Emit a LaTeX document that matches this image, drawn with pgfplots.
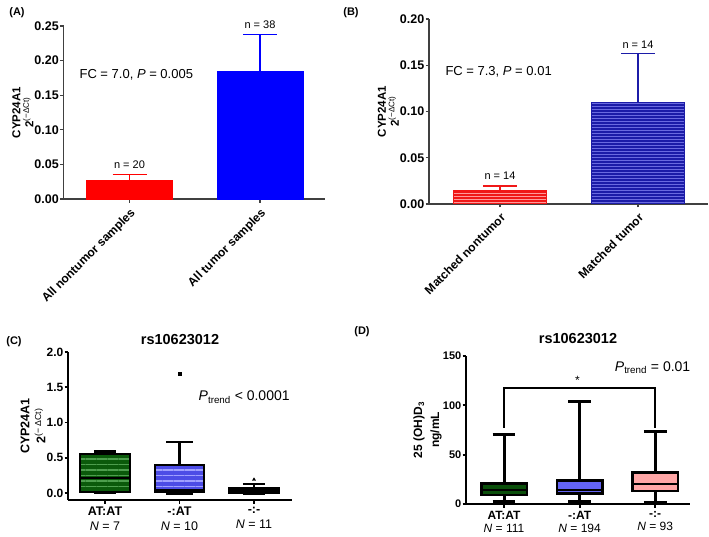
\documentclass[border=0pt]{standalone}
\usepackage{pgfplots}
\pgfplotsset{compat=1.18}
\usepgfplotslibrary{statistics}
\usetikzlibrary{patterns,patterns.meta}
\usepackage{fontspec}
\setmainfont{Liberation Sans}

\definecolor{ared}{HTML}{FF0000}
\definecolor{ablue}{HTML}{0000FF}
\definecolor{bred}{HTML}{F01818}
\definecolor{bredl}{HTML}{FF9A9A}
\definecolor{bblue}{HTML}{1C1CA8}
\definecolor{bbluel}{HTML}{6A6AE0}
\definecolor{cgreen}{HTML}{0B5A0B}
\definecolor{cgreenl}{HTML}{4E9E4E}
\definecolor{cblue}{HTML}{4C4CE6}
\definecolor{cbluel}{HTML}{A0A0FF}
\definecolor{dgreen}{HTML}{0A4F0A}
\definecolor{dblue}{HTML}{6464F5}
\definecolor{dpink}{HTML}{FFA6A6}
\definecolor{axgray}{HTML}{404040}

\pgfplotsset{
  gp/.style={
    scale only axis,
    axis lines=left,
    axis line style={-, line width=1.3pt, axgray},
    tick align=outside,
    major tick length=3.5pt,
    tick style={line width=1.3pt, axgray},
    tick label style={font=\fontsize{12.5}{14}\selectfont\bfseries},
    yticklabel style={inner sep=1pt},
    /pgf/number format/assume math mode=true,
    ylabel style={align=center, font=\fontsize{11.5}{13}\selectfont, inner sep=0pt},
    clip=false,
  },
  gpbox/.style={
    gp,
    boxplot/draw direction=y,
    axis line style={-, line width=1.8pt, black},
    tick style={line width=1.8pt, black},
    xticklabel style={align=center, font=\fontsize{12.5}{15}\selectfont},
  },
}

\begin{document}
\begin{tikzpicture}
\useasboundingbox (0,0) rectangle (709pt,536pt);

% Panel labels
\node[font=\fontsize{11}{12}\selectfont\bfseries] at (17pt,523pt) {(A)};
\node[font=\fontsize{11}{12}\selectfont\bfseries] at (351pt,523pt) {(B)};
\node[font=\fontsize{11}{12}\selectfont\bfseries] at (14pt,194pt) {(C)};
\node[font=\fontsize{11}{12}\selectfont\bfseries] at (362pt,204pt) {(D)};

% ---------------- Panel A
\begin{axis}[gp, at={(63.5pt,337pt)}, anchor=south west,
  width=261.5pt, height=173pt,
  xmin=-0.506, xmax=1.498, ymin=0, ymax=0.25,
  ytick={0,0.05,0.1,0.15,0.2,0.25},
  yticklabel style={/pgf/number format/fixed, /pgf/number format/fixed zerofill, /pgf/number format/precision=2},
  xtick={0,1}, xticklabels={All nontumor samples, All tumor samples},
  xticklabel style={rotate=45, anchor=north east, font=\fontsize{12}{14}\selectfont\bfseries},
  ylabel={\textbf{CYP24A1}\\\textbf{2}\textsuperscript{(−ΔCt)}},
]
\addplot[ybar, bar width=0.66, bar shift=0pt, fill=ared, draw=ared,
  error bars/.cd, y dir=plus, y explicit,
  error bar style={draw=ared, line width=1.3pt},
  error mark options={draw=ared, line width=1.3pt, mark size=17pt, rotate=90}]
  coordinates {(0,0.0265) +- (0,0.0091)};
\addplot[ybar, bar width=0.66, bar shift=0pt, fill=ablue, draw=ablue,
  error bars/.cd, y dir=plus, y explicit,
  error bar style={draw=ablue, line width=1.3pt},
  error mark options={draw=ablue, line width=1.3pt, mark size=17pt, rotate=90}]
  coordinates {(1,0.185) +- (0,0.0525)};
\node[font=\fontsize{13}{15}\selectfont, anchor=west] at (axis cs:-0.41,0.179) {FC = 7.0, \textit{P} = 0.005};
\node[font=\fontsize{11}{12}\selectfont] at (axis cs:0,0.05) {n = 20};
\node[font=\fontsize{11}{12}\selectfont] at (axis cs:1,0.252) {n = 38};
\end{axis}

% ---------------- Panel B
\begin{axis}[gp, at={(429pt,332pt)}, anchor=south west,
  width=279pt, height=185pt,
  xmin=-0.514, xmax=1.507, ymin=0, ymax=0.2,
  ytick={0,0.05,0.1,0.15,0.2},
  yticklabel style={/pgf/number format/fixed, /pgf/number format/fixed zerofill, /pgf/number format/precision=2},
  xtick={0,1}, xticklabels={Matched nontumor, Matched tumor},
  xticklabel style={rotate=45, anchor=north east, font=\fontsize{12}{14}\selectfont\bfseries},
  ylabel={\textbf{CYP24A1}\\\textbf{2}\textsuperscript{(−ΔCt)}},
]
\addplot[ybar, bar width=0.667, bar shift=0pt, fill=bred, draw=bred, line width=1pt,
  postaction={pattern=horizontal lines, pattern color=bredl},
  error bars/.cd, y dir=plus, y explicit,
  error bar style={draw=bred, line width=1.3pt},
  error mark options={draw=bred, line width=1.3pt, mark size=17pt, rotate=90}]
  coordinates {(0,0.0144) +- (0,0.0051)};
\addplot[ybar, bar width=0.667, bar shift=0pt, fill=bblue, draw=bblue, line width=1pt,
  postaction={pattern=horizontal lines, pattern color=bbluel},
  error bars/.cd, y dir=plus, y explicit,
  error bar style={draw=bblue, line width=1.3pt},
  error mark options={draw=bblue, line width=1.3pt, mark size=17pt, rotate=90}]
  coordinates {(1,0.110) +- (0,0.053)};
\node[font=\fontsize{13}{15}\selectfont, anchor=west] at (axis cs:-0.42,0.143) {FC = 7.3, \textit{P} = 0.01};
\node[font=\fontsize{11}{12}\selectfont] at (axis cs:0,0.031) {n = 14};
\node[font=\fontsize{11}{12}\selectfont] at (axis cs:1,0.172) {n = 14};
\end{axis}

% ---------------- Panel C
\begin{axis}[gpbox, at={(68pt,36pt)}, anchor=south west,
  width=224pt, height=148pt,
  xmin=-0.497, xmax=2.51, ymin=-0.1, ymax=2.0,
  boxplot/every whisker/.style={line width=2.5pt, black},
  boxplot/every median/.style={line width=2pt, black},
  ytick={0,0.5,1,1.5,2},
  tick label style={font=\fontsize{12}{14}\selectfont\bfseries},
  xticklabel style={align=center, font=\fontsize{12.5}{15}\selectfont},
  yticklabel style={/pgf/number format/fixed, /pgf/number format/fixed zerofill, /pgf/number format/precision=1},
  xtick={0,1,2},
  xticklabels={{\textbf{AT:AT}\\\textit{N} = 7},{\textbf{-:AT}\\\textit{N} = 10},{\textbf{-:-}\\\textit{N} = 11}},
  ylabel={\textbf{CYP24A1}\\\textbf{2}\textsuperscript{(− ΔCt)}},
  ylabel style={font=\fontsize{12.5}{16}\selectfont},
  title={rs10623012},
  title style={at={(0.5,1)}, anchor=base, yshift=2pt, font=\fontsize{14.5}{16}\selectfont\bfseries},
]
\addplot[boxplot prepared={draw position=0, lower whisker=0, lower quartile=0.01,
   median=0.207, upper quartile=0.555, upper whisker=0.588, box extend=0.66, whisker extend=0.3},
   draw=black, line width=2pt,
   boxplot/every box/.style={draw=black, line width=2pt, fill=cgreen,
     postaction={pattern={Lines[angle=0,distance=5.5pt,line width=1.2pt]}, pattern color=cgreenl}}]
   coordinates {};
\addplot[boxplot prepared={draw position=1, lower whisker=-0.005, lower quartile=0.02,
   median=0.04, upper quartile=0.39, upper whisker=0.72, box extend=0.66, whisker extend=0.36},
   draw=black, line width=2pt,
   boxplot/every box/.style={draw=black, line width=2pt, fill=cblue,
     postaction={pattern={Lines[angle=0,distance=5.5pt,line width=1.2pt]}, pattern color=cbluel}}]
   coordinates {};
\addplot[boxplot prepared={draw position=2, lower whisker=-0.01, lower quartile=0.0,
   median=0.03, upper quartile=0.065, upper whisker=0.13, box extend=0.66, whisker extend=0.3},
   draw=black, line width=2pt,
   boxplot/every box/.style={draw=black, line width=2pt, fill=black}]
   coordinates {};
\addplot[only marks, mark=square*, mark size=1.6pt, black] coordinates {(1,1.69)};
\addplot[only marks, mark=triangle*, mark size=1.8pt, black] coordinates {(2,0.19)};
\node[font=\fontsize{14}{16}\selectfont, anchor=west] at (axis cs:1.21,1.36) {\textit{P}\textsubscript{trend} < 0.0001};
\end{axis}

% ---------------- Panel D
\begin{axis}[gpbox, at={(466pt,32pt)}, anchor=south west,
  width=224pt, height=148pt,
  xmin=-0.503, xmax=2.46, ymin=0, ymax=150,
  boxplot/every whisker/.style={line width=3pt, black},
  boxplot/every median/.style={line width=2.2pt, black},
  ytick={0,50,100,150},
  tick label style={font=\fontsize{11}{13}\selectfont\bfseries},
  xticklabel style={align=center, font=\fontsize{12}{13.5}\selectfont},
  xtick={0,1,2},
  xticklabels={{\textbf{AT:AT}\\\textit{N} = 111},{\textbf{-:AT}\\\textit{N} = 194},{\textbf{-:-}\\\textit{N} = 93}},
  ylabel={\textbf{25 (OH)D\textsubscript{3}}\\\textbf{ng/mL}},
  ylabel style={font=\fontsize{12}{17}\selectfont},
  title={rs10623012},
  title style={at={(0.5,1)}, anchor=base, yshift=7pt, font=\fontsize{14.5}{16}\selectfont\bfseries},
]
\addplot[boxplot prepared={draw position=0, lower whisker=2.4, lower quartile=9.4,
   median=13.8, upper quartile=20.6, upper whisker=70.8, box extend=0.6, whisker extend=0.3},
   draw=black, line width=2.4pt,
   boxplot/every box/.style={draw=black, line width=2.4pt, fill=dgreen}]
   coordinates {};
\addplot[boxplot prepared={draw position=1, lower whisker=2.7, lower quartile=10.8,
   median=14.5, upper quartile=23.9, upper whisker=103.8, box extend=0.6, whisker extend=0.3},
   draw=black, line width=2.4pt,
   boxplot/every box/.style={draw=black, line width=2.4pt, fill=dblue}]
   coordinates {};
\addplot[boxplot prepared={draw position=2, lower whisker=1.3, lower quartile=13.1,
   median=19.9, upper quartile=32, upper whisker=73.5, box extend=0.6, whisker extend=0.3},
   draw=black, line width=2.4pt,
   boxplot/every box/.style={draw=black, line width=2.4pt, fill=dpink}]
   coordinates {};
\addplot[black, line width=2.4pt] coordinates {(0,77.5) (0,117.3) (2,117.3) (2,77.5)};
\node[font=\fontsize{12}{14}\selectfont] at (axis cs:0.97,125) {*};
\node[font=\fontsize{14}{16}\selectfont, anchor=west] at (axis cs:1.42,137.8) {\textit{P}\textsubscript{trend} = 0.01};
\end{axis}
\end{tikzpicture}
\end{document}
